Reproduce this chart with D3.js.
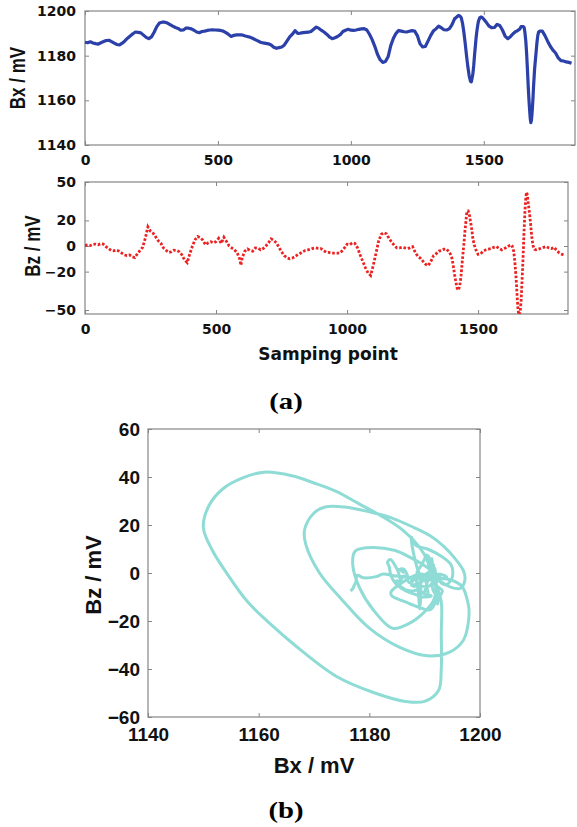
<!DOCTYPE html>
<html><head><meta charset="utf-8">
<script src="https://cdn.jsdelivr.net/npm/d3@7"></script>
<style>body{margin:0;background:#fff}</style>
</head><body>
<script>
// ---------- data ----------
const samples = [0,10,20,30,40,50,60,70,80,90,100,110,120,130,140,150,160,170,180,190,200,210,220,230,240,250,260,270,280,290,300,310,320,330,340,350,360,370,380,390,400,410,420,430,440,450,460,470,480,490,500,510,520,530,540,550,560,570,580,590,595,600,610,620,630,640,650,660,670,680,690,700,710,720,730,740,750,760,770,780,790,800,810,820,830,840,850,860,870,880,890,900,910,920,930,940,950,960,970,980,990,1000,1010,1020,1030,1040,1050,1060,1070,1080,1090,1100,1110,1120,1130,1140,1150,1160,1170,1180,1190,1200,1210,1220,1230,1240,1250,1260,1270,1280,1290,1300,1310,1320,1330,1340,1350,1360,1370,1380,1390,1395,1400,1405,1410,1415,1420,1425,1430,1435,1440,1445,1450,1453,1456,1459,1462,1465,1468,1471,1474,1477,1480,1485,1490,1495,1500,1510,1520,1530,1540,1550,1560,1570,1580,1590,1600,1610,1620,1625,1630,1636,1640,1645,1649,1652,1655,1658,1661,1664,1667,1669,1671,1673,1675,1677,1679,1681,1683,1685,1687,1689,1691,1694,1697,1700,1703,1706,1710,1715,1720,1730,1740,1750,1760,1770,1780,1790,1800,1810,1820,1830];
const bx = [1186,1185.8,1186.2,1185.7,1185.4,1185.2,1185.8,1186.3,1186.8,1186.9,1186.3,1185.6,1185.0,1184.8,1185.6,1186.6,1187.8,1188.8,1189.8,1190.6,1190.4,1190.2,1189.2,1188.2,1187.6,1188.4,1190.5,1193,1194.6,1195,1195,1194.6,1193.9,1193.2,1192.6,1192.2,1191.4,1191.5,1192.4,1192.3,1192,1191.4,1190.6,1190.3,1190.8,1191,1191.3,1191.5,1191.6,1191.5,1191.4,1191.3,1191,1190.3,1189.5,1188.6,1189.1,1189.3,1189.3,1189.3,1189.1,1188.9,1188.6,1188.3,1187.8,1187.2,1186.6,1186,1185.7,1185.5,1185.3,1184.8,1183.8,1183.3,1183.6,1183.9,1184.8,1186.6,1188.4,1189.6,1191.2,1190,1190.1,1190.3,1190.4,1190.5,1190.8,1191.8,1192.8,1192.2,1191.3,1190.5,1189.5,1188.3,1187.6,1188,1188.6,1189.4,1190.8,1191.4,1191.8,1191.4,1191.3,1191.5,1191.8,1192,1192.1,1191.5,1189.6,1187.2,1184.2,1180.6,1178.2,1177,1177.4,1179.5,1184.5,1187.8,1190,1191.3,1191,1190.7,1190.6,1190.9,1191.2,1191,1189,1185.3,1183.9,1184.1,1186.5,1189,1191,1192,1193.2,1192.5,1191.6,1191.5,1192,1193.8,1196.5,1197,1197.5,1198,1197.8,1197,1194.5,1190.5,1185.5,1180,1175,1171,1168.5,1168.3,1170,1172,1175.5,1180,1184,1188,1191,1193.5,1195.5,1197,1197.3,1197,1196.3,1194.8,1193.2,1192.5,1192.6,1194,1193.5,1191.5,1188.8,1187.6,1188.5,1189.8,1190.8,1191,1191.5,1192,1193,1193,1193,1192.5,1190,1186.5,1181,1174,1166.5,1162,1158,1154.5,1151.5,1150,1151,1153.5,1157,1161,1166,1170,1174,1178,1182,1186,1189,1190.5,1191,1191,1191,1189,1186.5,1184.2,1182.5,1181.2,1179,1177.8,1177.6,1177.2,1177,1176.6];
const bz = [0.5,0.8,0.3,1.2,1.5,1.0,1.8,1.5,-0.5,-2,-3.5,-3.8,-3.2,-4,-5.5,-7,-7.5,-7,-8.5,-9,-6,-3.5,-1,6,15,11.5,10,7,4,2,-1.7,-3.5,-5,-4.5,-3.2,-3.5,-4.5,-7,-11,-13,-6,0,5,7.5,6.5,4.5,1,2.5,3.4,2.5,3.5,6,2,6.8,3.5,0,-1.5,-3,-5,-10,-15,-9,-4,-2.3,-3.5,-4,-1.5,-1.5,-3,-2,0,2.5,5.6,4.5,2.5,-1,-4.5,-7.5,-9,-10,-9.5,-8.5,-7,-5.8,-4.5,-3.5,-3,-2.5,-1.8,-1.5,-1.8,-2,-3.5,-4.8,-5,-5.5,-5.5,-5.5,-5.5,-4,-1.5,1.4,1,2.5,2,-1.5,-7,-12,-17,-21,-23,-15,-6,3.5,9,10.5,9.5,6,3,0.5,-1.5,-1.5,-1,-1.5,-2,-1.5,-0.5,-5,-8,-9.6,-12,-14.3,-15.3,-12,-7.5,-6,-4,-3.5,-2.5,-2.4,-5,-6.5,-9.5,-15,-22,-28,-33,-34.5,-31,-23,-11,0,12,18,25,27.5,27.5,25.5,23,19,15.5,11,6,1,-2,-5,-6.5,-6,-4,-3,-2.5,-2,-1,-0.5,-2,-3,-2,-1,0.5,1,0,-4.3,-12,-25,-40,-49,-53.5,-53.5,-50,-43,-30,-21,-12,-1,10,19,28,35,39.5,42,40.5,37.5,34,29,24,18,11,5,0,-2.5,-3,-2.5,-1.7,-1,-0.4,-1.5,-2,-1,-3.5,-5.5,-6.5,-7.5];
const sampleTicks = [0,500,1000,1500];
const bxTicksA = [1140,1160,1180,1200];
const bzTicksA = [-50,-20,0,20,50];
const bxTicksB = [1140,1160,1180,1200];
const bzTicksB = [-60,-40,-20,0,20,40,60];

const data = samples.map((s,i)=>({s, bx:bx[i], bz:bz[i]}));

// ---------- drawing ----------
const W=577, H=827;
const svg = d3.select("body").append("svg").attr("width",W).attr("height",H)
  .style("font-family","'Liberation Sans',Arial,sans-serif");

const FRAME="#858585";

function panel(g, x, y, xt, yt, o){
  const [x0,x1]=x.range(), [y0,y1]=y.range();
  const style = sel => {
    sel.select(".domain").remove();
    sel.selectAll(".tick line").attr("stroke",FRAME).attr("stroke-width",1);
    sel.selectAll(".tick text").attr("fill","#111")
      .style("font-family",o.tickFont).style("font-weight","bold").style("font-size",o.tickSize+"px");
  };
  g.append("g").attr("transform",`translate(0,${y0})`)
    .call(d3.axisBottom(x).tickValues(xt).tickSize(-4).tickSizeOuter(0).tickPadding(o.xpad).tickFormat(d3.format("d"))).call(style);
  g.append("g").attr("transform",`translate(0,${y1})`)
    .call(d3.axisTop(x).tickValues(xt).tickSize(-4).tickSizeOuter(0).tickFormat("")).call(style);
  g.append("g").attr("transform",`translate(${x0},0)`)
    .call(d3.axisLeft(y).tickValues(yt).tickSize(-4).tickSizeOuter(0).tickPadding(o.ypad).tickFormat(d3.format("d"))).call(style);
  g.append("g").attr("transform",`translate(${x1},0)`)
    .call(d3.axisRight(y).tickValues(yt).tickSize(-4).tickSizeOuter(0).tickFormat("")).call(style);
  g.append("rect").attr("x",x0).attr("y",y1).attr("width",x1-x0).attr("height",y0-y1)
    .attr("fill","none").attr("stroke",FRAME).attr("stroke-width",1.2);
}

// ---- (a) top: Bx vs sample ----
const xA1 = d3.scaleLinear().domain([0,1843]).range([85,575]);
const yA1 = d3.scaleLinear().domain([1140,1200]).range([145,11]);
const gA1 = svg.append("g");
panel(gA1, xA1, yA1, sampleTicks, bxTicksA, {tickFont:"'DejaVu Sans',sans-serif", tickSize:14, xpad:10, ypad:9});
gA1.append("path").datum(data)
  .attr("d", d3.line().x(d=>xA1(d.s)).y(d=>yA1(d.bx)))
  .attr("fill","none").attr("stroke","#2b40a8").attr("stroke-width",3.2).attr("stroke-linejoin","round");
gA1.append("text").attr("transform","translate(25,78) scale(1.25,1) rotate(-90)")
  .attr("text-anchor","middle").style("font-weight","bold").style("font-size","17px").attr("fill","#111").text("Bx / mV");

// ---- (a) bottom: Bz vs sample ----
const xA2 = d3.scaleLinear().domain([0,1843]).range([85,568]);
const yA2 = d3.scaleLinear().domain([-53.1,50]).range([314,182]);
const gA2 = svg.append("g");
svg.append("clipPath").attr("id","clipA2").append("rect").attr("x",85).attr("y",182).attr("width",483).attr("height",132);
panel(gA2, xA2, yA2, sampleTicks, bzTicksA, {tickFont:"'DejaVu Sans',sans-serif", tickSize:14, xpad:10, ypad:9});
gA2.append("path").datum(data).attr("clip-path","url(#clipA2)")
  .attr("d", d3.line().x(d=>xA2(d.s)).y(d=>yA2(d.bz)))
  .attr("fill","none").attr("stroke","#ec2222").attr("stroke-width",2.8).attr("stroke-dasharray","2.6,1.8");
gA2.append("text").attr("transform","translate(40,246) scale(1.25,1) rotate(-90)")
  .attr("text-anchor","middle").style("font-weight","bold").style("font-size","17px").attr("fill","#111").text("Bz / mV");
gA2.append("text").attr("x",328).attr("y",360).attr("text-anchor","middle")
  .style("font-family","'DejaVu Sans',sans-serif").style("font-weight","bold").style("font-size","17px").attr("fill","#111").text("Samping point");

svg.append("text").attr("transform","translate(286,409) scale(1.25,1)").attr("text-anchor","middle")
  .style("font-family","'Liberation Serif','Times New Roman',serif").style("font-weight","bold").style("font-size","23px").attr("fill","#000").text("(a)");

// ---- (b): Bz vs Bx ----
const xB = d3.scaleLinear().domain([1140,1200]).range([148,480]);
const yB = d3.scaleLinear().domain([-60,60]).range([717,429]);
const gB = svg.append("g");
panel(gB, xB, yB, bxTicksB, bzTicksB, {tickFont:"'Liberation Sans',Arial,sans-serif", tickSize:19, xpad:11, ypad:8});
gB.append("path").datum(data)
  .attr("d", d3.line().x(d=>xB(d.bx)).y(d=>yB(d.bz)).curve(d3.curveCatmullRom.alpha(0.5)))
  .attr("fill","none").attr("stroke","#8edcd5").attr("stroke-width",3).attr("stroke-linejoin","round");
gB.append("text").attr("transform","translate(101,575) rotate(-90)").attr("text-anchor","middle")
  .style("font-weight","bold").style("font-size","22px").attr("fill","#111").text("Bz / mV");
gB.append("text").attr("x",314).attr("y",773).attr("text-anchor","middle")
  .style("font-weight","bold").style("font-size","22px").attr("fill","#111").text("Bx / mV");

svg.append("text").attr("transform","translate(286,818) scale(1.25,1)").attr("text-anchor","middle")
  .style("font-family","'Liberation Serif','Times New Roman',serif").style("font-weight","bold").style("font-size","23px").attr("fill","#000").text("(b)");
</script>
</body></html>
